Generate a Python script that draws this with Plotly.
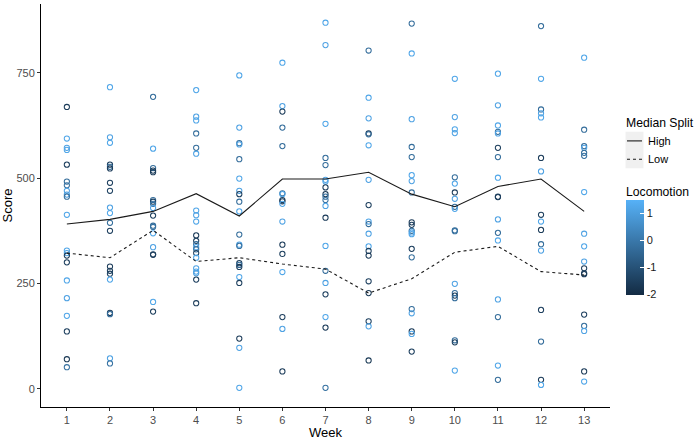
import plotly.graph_objects as go

weeks = list(range(1, 14))
median_high = [391, 402, 421, 463, 410, 498, 498, 514, 462, 432, 480, 498, 421]
median_low = [322, 311, 376, 302, 311, 296, 284, 227, 261, 324, 338, 278, 270]
split_labels = ["High", "Low"]
colorbar_ticks = [-2, -1, 0, 1]

score_by_week = [
    [669, 594, 572, 567, 532, 492, 483, 470, 461, 456, 413, 328, 322, 316, 300, 257, 215, 173, 136, 70, 51],
    [716, 597, 584, 532, 527, 523, 489, 470, 430, 417, 394, 375, 290, 280, 273, 259, 180, 177, 72, 60],
    [693, 570, 524, 518, 514, 448, 444, 439, 429, 411, 387, 384, 369, 336, 319, 318, 206, 183],
    [709, 646, 637, 606, 572, 558, 423, 412, 397, 364, 351, 343, 336, 331, 322, 311, 286, 278, 274, 259, 203],
    [744, 620, 583, 580, 545, 499, 470, 462, 444, 421, 366, 342, 339, 298, 294, 289, 265, 251, 119, 97, 2],
    [774, 671, 658, 620, 576, 464, 462, 448, 445, 439, 397, 342, 320, 277, 170, 142, 41],
    [869, 816, 629, 548, 531, 496, 492, 478, 462, 456, 448, 434, 406, 339, 280, 251, 224, 170, 145, 2],
    [803, 691, 642, 606, 604, 578, 496, 436, 397, 391, 368, 338, 327, 316, 255, 227, 160, 148, 67],
    [867, 796, 640, 574, 550, 507, 493, 466, 395, 389, 375, 371, 367, 332, 312, 189, 179, 136, 130, 88],
    [736, 645, 616, 607, 502, 487, 466, 451, 432, 427, 376, 374, 249, 227, 221, 215, 115, 110, 43],
    [748, 673, 625, 610, 606, 572, 550, 501, 456, 455, 402, 370, 352, 212, 170, 55, 21],
    [861, 736, 663, 654, 644, 548, 516, 413, 397, 377, 343, 328, 187, 112, 21, 9],
    [786, 615, 576, 572, 560, 553, 467, 368, 338, 302, 286, 274, 272, 176, 149, 137, 41, 17],
]

loco_by_week = [
    [-1.6, 1.2, 1.1, 1.2, -1.5, -0.3, -0.2, 1.1, 1.0, -0.3, 1.2, 1.2, 1.1, -1.6, -1.5, 1.2, 1.1, 1.2, -1.5, -1.7, -0.2],
    [1.2, 1.1, 1.2, -1.5, -0.3, -1.6, -1.5, -1.4, 1.1, 1.2, -0.3, -1.5, -1.6, -1.5, -1.4, 1.2, -1.6, -0.3, 1.1, -0.2],
    [-0.3, 1.2, -0.3, -1.5, -1.6, -0.3, -1.4, -0.2, 1.1, -1.5, -0.3, -0.2, 1.2, 1.1, -1.6, -1.5, 1.2, -1.5],
    [1.2, 1.1, 1.2, -0.3, -0.3, 1.1, 1.2, 1.1, 1.2, -1.6, -1.5, -0.3, 1.1, -0.2, -1.5, 1.2, 1.1, 1.2, 1.0, -1.5, -1.6],
    [1.2, 1.1, -0.3, 1.1, -0.3, 1.2, 1.1, -1.5, -0.3, 1.2, -0.3, 1.1, -0.2, -1.5, -0.3, -1.6, 1.2, -1.5, -1.6, 1.1, 1.2],
    [1.2, 1.1, -1.6, -0.3, -0.3, -0.3, 1.1, -1.5, -1.6, 1.2, 1.1, -1.6, -1.5, 1.2, -1.5, 1.1, -1.6],
    [1.2, 1.1, 1.2, -0.3, -0.3, 1.1, 1.2, -1.5, -1.6, -0.3, -0.2, 1.1, -1.6, 1.2, -0.3, 1.1, -1.5, 1.2, -1.6, -0.2],
    [-0.3, 1.2, 1.1, -1.6, -0.3, 1.2, 1.1, -1.5, 1.2, -0.3, 1.1, 1.2, -1.5, -1.6, -1.5, -1.6, -1.5, 1.1, -1.7],
    [-0.3, 1.2, 1.1, -0.3, -0.3, 1.2, 1.1, -0.3, -1.6, -1.5, -0.3, 1.1, 1.2, -1.5, -0.3, -0.3, 1.1, -1.6, 1.2, -1.5],
    [1.2, 1.1, 1.2, 1.1, -0.3, 1.2, -1.6, 1.1, -0.3, 1.2, -0.3, -0.2, 1.1, -0.3, -1.5, -0.3, -0.3, -1.5, 1.2],
    [1.2, 1.1, 1.2, -0.3, 1.1, -1.5, -0.3, 1.2, -1.6, -1.5, 1.1, -0.3, 1.2, 1.1, -0.3, 1.2, -0.3],
    [-0.3, 1.2, -0.3, 1.1, 1.2, -1.6, 1.1, -1.5, 1.2, -1.6, -0.3, 1.1, -1.5, -0.3, -1.6, 1.2],
    [1.2, -0.3, -0.3, 1.1, -0.3, -0.2, 1.2, 1.1, 1.2, 1.1, -1.6, -1.5, -1.6, -1.5, -0.3, 1.1, -1.6, 1.2],
]

pt_week, pt_score, pt_loco = [], [], []
for w, sc, lc in zip(weeks, score_by_week, loco_by_week):
    for s, l in zip(sc, lc):
        pt_week.append(w)
        pt_score.append(s)
        pt_loco.append(l)

W, H = 694, 440
L_M, R_M, T_M, B_M = 41, 84, 4, 33
pw = W - L_M - R_M
ph = H - T_M - B_M


def px_x(px):
    return (px - L_M) / pw


def px_y(py):
    return (H - B_M - py) / ph


font = "Liberation Sans, Arial, sans-serif"
line_color = "#1a1a1a"
title_size = 12.2

fig = go.Figure()
fig.add_trace(go.Scatter(
    x=pt_week, y=pt_score, mode="markers", showlegend=False,
    marker=dict(symbol="circle-open", size=5.2, color=pt_loco,
                colorscale=[[0, "#132B43"], [1, "#56B1F7"]],
                cmin=-2.03, cmax=1.49, line=dict(width=1.05),
                colorbar=dict(
                    x=px_x(625.5), xanchor="left",
                    y=px_y(200), yanchor="top",
                    len=95, lenmode="pixels", thickness=18, thicknessmode="pixels",
                    outlinewidth=0, tickvals=colorbar_ticks,
                    ticktext=[str(t) for t in colorbar_ticks],
                    ticks="inside", ticklen=4, tickcolor="white", tickwidth=1,
                    tickfont=dict(size=11, color="#1a1a1a", family=font),
                    xpad=0, ypad=0,
                )),
    hoverinfo="skip",
))
fig.add_trace(go.Scatter(
    x=weeks, y=median_high, mode="lines", name=split_labels[0], showlegend=False,
    line=dict(color=line_color, width=1.1, dash="solid"), hoverinfo="skip",
))
fig.add_trace(go.Scatter(
    x=weeks, y=median_low, mode="lines", name=split_labels[1], showlegend=False,
    line=dict(color=line_color, width=1.1, dash="dot"), hoverinfo="skip",
))

# Manual ggplot-style legend for the median split lines
shapes = []
annotations = [
    dict(text="Median Split", x=px_x(624), y=px_y(123.5), xref="paper", yref="paper",
         xanchor="left", yanchor="middle", showarrow=False,
         font=dict(size=title_size, color="#000", family=font)),
    dict(text="Locomotion", x=px_x(624), y=px_y(191.5), xref="paper", yref="paper",
         xanchor="left", yanchor="middle", showarrow=False,
         font=dict(size=title_size, color="#000", family=font)),
]
key_tops = [131.7, 150.0]
key_dash = ["solid", "dot"]
for lab, top, dash in zip(split_labels, key_tops, key_dash):
    shapes.append(dict(type="rect", xref="paper", yref="paper",
                       x0=px_x(625.5), x1=px_x(643.5), y0=px_y(top), y1=px_y(top + 18.3),
                       fillcolor="#f0f0f0", line=dict(width=0), layer="above"))
    shapes.append(dict(type="line", xref="paper", yref="paper",
                       x0=px_x(627), x1=px_x(642), y0=px_y(top + 9.2), y1=px_y(top + 9.2),
                       line=dict(color=line_color, width=1.1, dash=dash), layer="above"))
    annotations.append(dict(text=lab, x=px_x(645.5), y=px_y(top + 9.2), xref="paper", yref="paper",
                            xanchor="left", yanchor="middle", showarrow=False,
                            font=dict(size=11, color="#000", family=font)))

fig.update_layout(
    width=W, height=H,
    margin=dict(l=L_M, r=R_M, t=T_M, b=B_M, pad=0, autoexpand=False),
    plot_bgcolor="white", paper_bgcolor="white",
    font=dict(family=font, size=11, color="#4d4d4d"),
    showlegend=False,
    shapes=shapes,
    annotations=annotations,
    xaxis=dict(
        range=[0.4, 13.6], tickvals=weeks, ticktext=[str(w) for w in weeks],
        showgrid=False, zeroline=False, showline=True, linecolor="#000", linewidth=1,
        ticks="outside", ticklen=3, tickcolor="#333", automargin=False,
        tickfont=dict(size=11, color="#4d4d4d"),
        title=dict(text="Week", font=dict(size=13, color="#000"), standoff=1),
    ),
    yaxis=dict(
        range=[-43.5, 913.5], tickvals=[0, 250, 500, 750],
        showgrid=False, zeroline=False, showline=True, linecolor="#000", linewidth=1,
        ticks="outside", ticklen=3, tickcolor="#333", automargin=False,
        tickfont=dict(size=11, color="#4d4d4d"),
        title=dict(text="Score", font=dict(size=13, color="#000"), standoff=4),
    ),
)

fig.write_html("out.html", config={"displayModeBar": False},
               post_script="document.body.style.margin='0px';")
